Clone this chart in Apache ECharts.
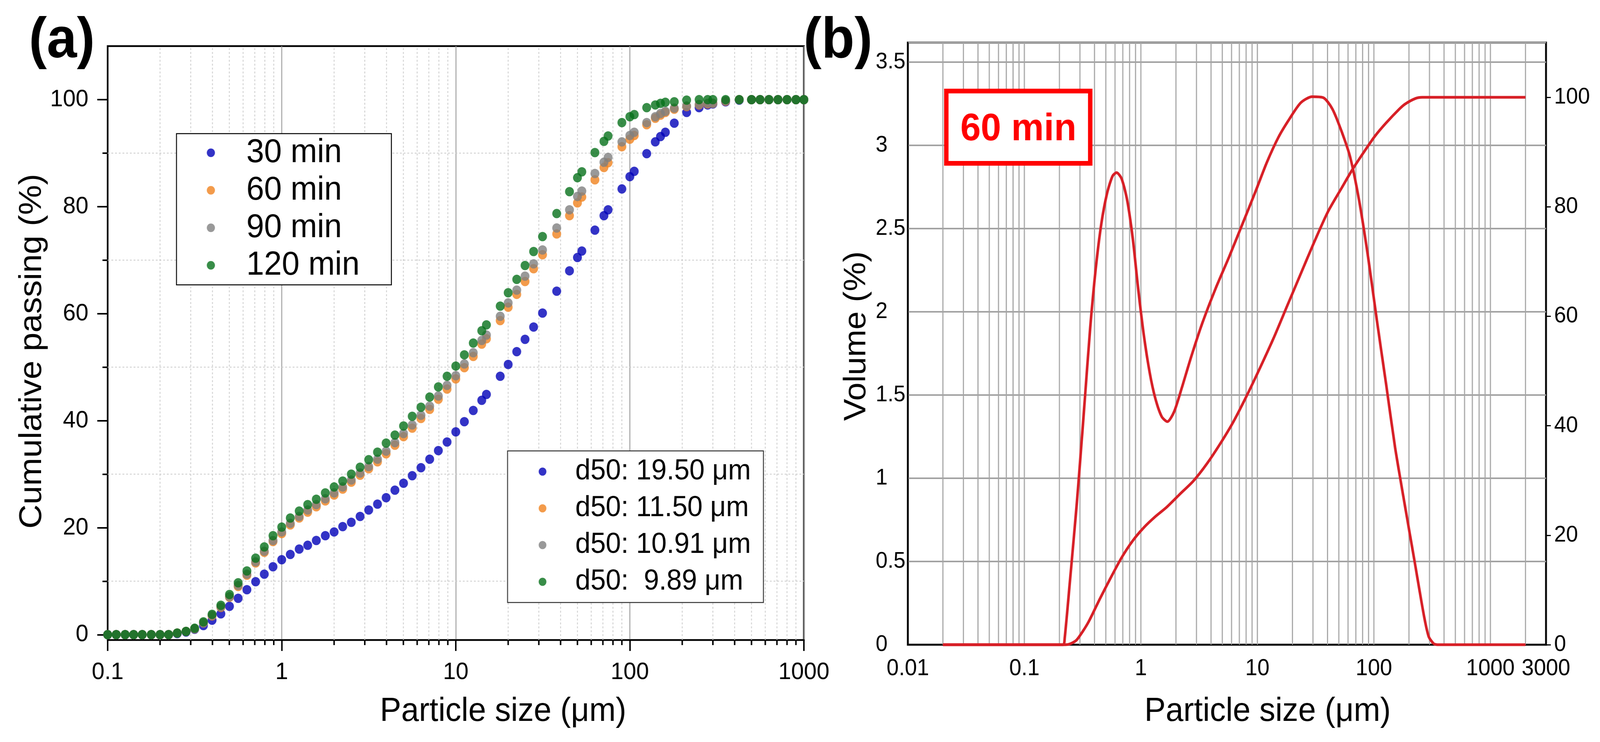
<!DOCTYPE html>
<html>
<head>
<meta charset="utf-8">
<title>Particle size distribution</title>
<script src="https://cdn.jsdelivr.net/npm/echarts@6.0.0/dist/echarts.min.js"></script>
<style>
  html, body { margin: 0; padding: 0; background: #fff; overflow: hidden; }
  #chart { width: 4325px; height: 1899px; transform-origin: 0 0; }
</style>
</head>
<body>
<div id="chart"></div>
<script>
// (a) cumulative passing, the size classes are shared by the four grinding times
const sizes = [0.1, 0.112, 0.126, 0.141, 0.158, 0.178, 0.2, 0.224, 0.251, 0.282,
  0.316, 0.355, 0.398, 0.447, 0.501, 0.562, 0.631, 0.708, 0.794, 0.891,
  1, 1.12, 1.26, 1.41, 1.58, 1.78, 2, 2.24, 2.51, 2.82,
  3.16, 3.55, 3.98, 4.47, 5.01, 5.62, 6.31, 7.08, 7.94, 8.91,
  10, 11.2, 12.6, 14.1, 15, 18, 20, 22.4, 25, 28, 31.5,
  38, 45, 50, 53, 63, 71, 75, 90,
  100, 106, 125, 140, 150, 160, 180, 212,
  250, 280, 300, 355, 425, 500, 560, 630, 710, 800, 900, 1000];

const passing30 = [0, 0, 0, 0, 0, 0, 0, 0, 0.2, 0.5,
  1.0, 1.7, 2.7, 3.9, 5.3, 6.8, 8.4, 9.9, 11.3, 12.7,
  14.0, 15.0, 16.0, 16.7, 17.6, 18.5, 19.2, 20.2, 21.0, 22.1,
  23.3, 24.4, 25.6, 27.0, 28.3, 29.7, 31.2, 32.8, 34.4, 36.0,
  37.9, 39.8, 41.9, 43.8, 44.9, 48.3, 50.5, 52.9, 55.2, 57.5, 60.1,
  64.2, 68.0, 70.5, 71.7, 75.6, 78.3, 79.4, 83.3,
  85.6, 86.6, 89.9, 92.1, 93.1, 93.9, 95.6, 97.6,
  98.5, 99.0, 99.2, 99.6, 99.9, 100, 100, 100, 100, 100, 100, 100];

const passing60 = [0, 0, 0, 0, 0, 0, 0, 0, 0.3, 0.6,
  1.1, 2.2, 3.5, 5.1, 7.0, 9.0, 11.1, 13.4, 15.4, 17.4,
  18.9, 20.5, 21.8, 22.9, 23.9, 25.0, 26.1, 27.2, 28.5, 29.8,
  31.0, 32.3, 33.8, 35.4, 37.0, 38.6, 40.4, 42.1, 44.0, 45.9,
  47.8, 49.9, 52.0, 54.3, 55.3, 58.7, 61.2, 63.6, 66.0, 68.4, 71.0,
  74.9, 78.3, 80.7, 81.8, 85.0, 87.3, 88.2, 91.2,
  92.6, 93.3, 95.3, 96.5, 97.1, 97.6, 98.2, 98.7,
  99.0, 99.2, 99.3, 99.7, 100, 100, 100, 100, 100, 100, 100, 100];

const passing90 = [0, 0, 0, 0, 0, 0, 0, 0, 0.3, 0.6,
  1.1, 2.2, 3.6, 5.2, 7.1, 9.2, 11.3, 13.6, 15.6, 17.6,
  19.2, 20.8, 22.1, 23.3, 24.3, 25.4, 26.5, 27.6, 28.9, 30.2,
  31.4, 32.8, 34.3, 35.9, 37.6, 39.2, 41.0, 42.7, 44.6, 46.6,
  48.4, 50.6, 52.7, 55.0, 56.0, 59.5, 62.0, 64.4, 67.0, 69.3, 71.9,
  76.0, 79.4, 81.9, 82.9, 86.2, 88.3, 89.2, 92.1,
  93.3, 93.9, 95.7, 96.8, 97.4, 97.8, 98.4, 98.8,
  99.1, 99.3, 99.3, 99.8, 100, 100, 100, 100, 100, 100, 100, 100];

const passing120 = [0, 0, 0, 0, 0, 0, 0, 0, 0.3, 0.6,
  1.2, 2.4, 3.8, 5.5, 7.5, 9.7, 11.9, 14.3, 16.4, 18.5,
  20.1, 21.8, 23.1, 24.3, 25.3, 26.5, 27.6, 28.7, 30.0, 31.3,
  32.7, 34.1, 35.8, 37.3, 39.0, 40.8, 42.5, 44.4, 46.3, 48.3,
  50.2, 52.3, 54.5, 56.8, 57.9, 61.4, 63.9, 66.4, 69.0, 71.6, 74.4,
  78.7, 82.8, 85.4, 86.5, 90.1, 92.2, 93.2, 95.7,
  96.8, 97.2, 98.5, 99.0, 99.3, 99.5, 99.6, 99.9,
  100, 100, 100, 100, 100, 100, 100, 100, 100, 100, 100, 100];

const timeNames = ['30 min', '60 min', '90 min', '120 min'];
const d50Names = ['d50: 19.50 μm', 'd50: 11.50 μm', 'd50: 10.91 μm', 'd50:  9.89 μm'];
const colors = ['#0000b8', '#f0821e', '#808080', '#06701a'];

// (b) 60 min sample: volume frequency (left axis) and cumulative (right axis)
const volSizes = [0.02, 0.1, 0.215, 0.222, 0.246, 0.282, 0.322, 0.367, 0.41, 0.458,
  0.512, 0.571, 0.619, 0.683, 0.763, 0.852, 0.951, 1.06, 1.19, 1.33,
  1.51, 1.69, 1.93, 2.25, 2.69, 3.36, 4.38, 5.72, 7.47, 9.73,
  12.1, 15.2, 18.9, 23.6, 29.5, 36.8, 43.9, 52.4, 62.5, 74.6,
  89.1, 106, 127, 152, 181, 221, 268, 295, 325, 350, 1000, 2000];
const volume = [0, 0, 0, 0.04, 0.38, 0.85, 1.37, 1.9, 2.26, 2.53,
  2.71, 2.815, 2.836, 2.8, 2.67, 2.44, 2.13, 1.86, 1.635, 1.48,
  1.37, 1.34, 1.4, 1.545, 1.725, 1.93, 2.14, 2.33, 2.53, 2.73,
  2.9, 3.05, 3.16, 3.256, 3.292, 3.286, 3.22, 3.09, 2.93, 2.67,
  2.33, 1.95, 1.57, 1.185, 0.87, 0.52, 0.18, 0.05, 0.007, 0, 0, 0];

const cumSizes = [0.02, 0.1, 0.225, 0.25, 0.282, 0.352, 0.438, 0.547, 0.683, 0.852,
  1.06, 1.33, 1.66, 2.16, 2.82, 3.67, 4.79, 6.25, 8.15, 10.6,
  13.9, 18.1, 23.6, 30.8, 40.1, 52.4, 65.4, 81.5, 102, 127,
  166, 186, 228, 260, 1000, 2000];
const cumulative = [0, 0, 0, 0.2, 0.9, 4.0, 8.1, 12.1, 15.9, 19.0,
  21.4, 23.4, 25.1, 27.5, 29.9, 33.0, 36.7, 40.8, 45.6, 50.7,
  56.2, 62.0, 67.8, 73.6, 79.0, 83.3, 86.8, 89.9, 92.9, 95.3,
  97.9, 98.8, 99.8, 100, 100, 100];

// tick and grid values
const yTicksA = [0, 20, 40, 60, 80, 100];
const yMinorA = [10, 30, 50, 70, 90];
const xMinorA = [0.2, 0.3, 0.4, 0.5, 0.6, 0.7, 0.8, 0.9,
  2, 3, 4, 5, 6, 7, 8, 9,
  20, 30, 40, 50, 60, 70, 80, 90,
  200, 300, 400, 500, 600, 700, 800, 900];
const xGridB = [0.02, 0.03, 0.04, 0.05, 0.06, 0.07, 0.08, 0.09,
  0.1, 0.2, 0.3, 0.4, 0.5, 0.6, 0.7, 0.8, 0.9,
  1, 2, 3, 4, 5, 6, 7, 8, 9,
  10, 20, 30, 40, 50, 60, 70, 80, 90,
  100, 200, 300, 400, 500, 600, 700, 800, 900, 1000, 2000];
const yLabelsB = [0, 0.5, 1, 1.5, 2, 2.5, 3, 3.5];
const yRightB = [0, 20, 40, 60, 80, 100];

const FONT = 'Liberation Sans, Arial, sans-serif';
const A_X = [0.1, 1000], A_Y = [-1, 110];
const B_X = [0.01, 3000], B_Y = [0, 3.617];

const fmtLog = (v) => String(+v.toPrecision(6));

// lines drawn through the axes' own scales
function vLines(values, yRange, xi, yi, style) {
  return {
    type: 'custom', xAxisIndex: xi, yAxisIndex: yi, silent: true, z: 1,
    data: values.map((v) => [v, yRange[0]]),
    renderItem: (params, api) => {
      const p1 = api.coord([api.value(0), yRange[0]]);
      const p2 = api.coord([api.value(0), yRange[1]]);
      return { type: 'line', shape: { x1: p1[0], y1: p1[1], x2: p2[0], y2: p2[1] }, style };
    },
  };
}
function hLines(values, xRange, xi, yi, style) {
  return {
    type: 'custom', xAxisIndex: xi, yAxisIndex: yi, silent: true, z: 1,
    data: values.map((v) => [xRange[0], v]),
    renderItem: (params, api) => {
      const p1 = api.coord([xRange[0], api.value(1)]);
      const p2 = api.coord([xRange[1], api.value(1)]);
      return { type: 'line', shape: { x1: p1[0], y1: p1[1], x2: p2[0], y2: p2[1] }, style };
    },
  };
}
function minorTicks(values, yMin, len, xi, yi) {
  return {
    type: 'custom', xAxisIndex: xi, yAxisIndex: yi, silent: true, z: 1,
    data: values.map((v) => [v, yMin]),
    renderItem: (params, api) => {
      const p = api.coord([api.value(0), yMin]);
      return { type: 'line', shape: { x1: p[0], y1: p[1], x2: p[0], y2: p[1] + len },
        style: { stroke: '#000', lineWidth: 4 } };
    },
  };
}

const passingSets = [passing30, passing60, passing90, passing120];

// the window can be narrower than 4325px: stretch the drawing to fill it
const el = document.getElementById('chart');
const sx = window.innerWidth / 4325, sy = window.innerHeight / 1899;
if (Math.abs(sx - 1) > 0.001 || Math.abs(sy - 1) > 0.001) el.style.transform = `scale(${sx}, ${sy})`;

const chart = echarts.init(el, null, { renderer: 'canvas' });
chart.setOption({
  animation: false,
  backgroundColor: '#fff',
  title: [
    { text: '(a)', left: 78, top: 34, padding: 0,
      textStyle: { fontFamily: FONT, fontSize: 146, fontWeight: 'bold', color: '#000', lineHeight: 146 } },
    { text: '(b)', left: 2172, top: 34, padding: 0,
      textStyle: { fontFamily: FONT, fontSize: 146, fontWeight: 'bold', color: '#000', lineHeight: 146 } },
    { text: '60 min', left: 2558, top: 233, padding: [49, 38, 37, 38],
      backgroundColor: '#fff', borderColor: '#ff0000', borderWidth: 12,
      textStyle: { fontFamily: FONT, fontSize: 99, fontWeight: 'bold', color: '#ff0000', lineHeight: 99 } },
  ],
  legend: [
    {
      data: timeNames, orient: 'vertical', left: 477, top: 342,
      padding: [1, 86, 2, 82], itemWidth: 22, itemHeight: 22, itemGap: 0,
      icon: 'circle', selectedMode: false,
      backgroundColor: '#fff', borderColor: '#000', borderWidth: 2.5,
      formatter: (name) => '{s|}' + name,
      textStyle: { fontFamily: FONT, fontSize: 86, lineHeight: 96, color: '#000',
        rich: { s: { width: 80, lineHeight: 96, fontSize: 86 } } },
    },
    {
      data: d50Names, orient: 'vertical', left: 1372, top: 1154,
      padding: [6, 34, 6, 84], itemWidth: 21, itemHeight: 21, itemGap: 0,
      icon: 'circle', selectedMode: false,
      backgroundColor: '#fff', borderColor: '#333', borderWidth: 2.5,
      formatter: (name) => '{s|}' + name,
      textStyle: { fontFamily: FONT, fontSize: 74, lineHeight: 94, color: '#000',
        rich: { s: { width: 73, lineHeight: 94, fontSize: 74 } } },
    },
  ],
  grid: [
    { left: 291, right: 2152, top: 118, bottom: 261, show: true,
      borderColor: '#000', borderWidth: 4.5, outerBoundsMode: 'none' },
    { left: 2454, right: 146, top: 109, bottom: 249, show: true,
      borderColor: '#000', borderWidth: 5, outerBoundsMode: 'none' },
  ],
  xAxis: [
    {
      type: 'log', logBase: 10, gridIndex: 0, min: A_X[0], max: A_X[1],
      name: 'Particle size (μm)', nameLocation: 'middle', nameGap: 140,
      nameTextStyle: { fontFamily: FONT, fontSize: 86, color: '#000', padding: [0, 0, 0, 256] },
      axisLine: { onZero: false, lineStyle: { color: '#000', width: 4 } },
      axisTick: { length: 28, lineStyle: { color: '#000', width: 4 } },
      axisLabel: { fontFamily: FONT, fontSize: 62, color: '#000', margin: 52, formatter: fmtLog },
      splitLine: { show: true, lineStyle: { color: '#9d9d9d', width: 2.5 } },
    },
    {
      type: 'log', logBase: 10, gridIndex: 1, min: B_X[0], max: B_X[1],
      name: 'Particle size (μm)', nameLocation: 'middle', nameGap: 128,
      nameTextStyle: { fontFamily: FONT, fontSize: 86, color: '#000', padding: [0, 0, 0, 220] },
      axisLine: { onZero: false, lineStyle: { color: '#000', width: 4 } },
      axisTick: { show: false },
      axisLabel: { fontFamily: FONT, fontSize: 59, color: '#000', margin: 32, formatter: fmtLog },
      splitLine: { show: false },
    },
  ],
  yAxis: [
    {
      type: 'value', gridIndex: 0, position: 'left', min: A_Y[0], max: A_Y[1],
      name: 'Cumulative passing (%)', nameLocation: 'middle', nameRotate: 90, nameGap: 161,
      nameTextStyle: { fontFamily: FONT, fontSize: 86, color: '#000', padding: [0, 42, 0, 0] },
      axisLine: { show: true, onZero: false, lineStyle: { color: '#000', width: 4 } },
      axisTick: { show: true, customValues: yTicksA, length: 28, lineStyle: { color: '#000', width: 4 } },
      axisLabel: { customValues: yTicksA, fontFamily: FONT, fontSize: 62, color: '#000', margin: 52 },
      splitLine: { show: false },
    },
    {
      type: 'value', gridIndex: 0, position: 'left', min: A_Y[0], max: A_Y[1],
      axisLine: { show: false, onZero: false },
      axisTick: { show: true, customValues: yMinorA, length: 14, lineStyle: { color: '#000', width: 4 } },
      axisLabel: { show: false },
      splitLine: { show: false },
    },
    {
      type: 'value', gridIndex: 1, position: 'left', min: B_Y[0], max: B_Y[1], interval: 0.5,
      name: 'Volume (%)', nameLocation: 'middle', nameRotate: 90, nameGap: 96,
      nameTextStyle: { fontFamily: FONT, fontSize: 84, color: '#000', padding: [0, 0, 0, 39] },
      axisLine: { show: true, onZero: false, lineStyle: { color: '#000', width: 3.5 } },
      axisTick: { show: false },
      axisLabel: { customValues: yLabelsB, align: 'left', margin: 87, fontFamily: FONT, fontSize: 58, color: '#000' },
      splitLine: { show: true, lineStyle: { color: '#a2a2a2', width: 4 } },
    },
    {
      type: 'value', gridIndex: 1, position: 'right', min: 0, max: 110,
      axisLine: { show: false, onZero: false },
      axisTick: { show: true, customValues: yRightB, length: 13, lineStyle: { color: '#000', width: 3 } },
      axisLabel: { customValues: yRightB, margin: 22, fontFamily: FONT, fontSize: 58, color: '#000' },
      splitLine: { show: false },
    },
  ],
  series: [
    vLines(xMinorA, A_Y, 0, 0, { stroke: '#c9c9c9', lineWidth: 2, lineDash: [5, 5] }),
    hLines(yMinorA, A_X, 0, 0, { stroke: '#c9c9c9', lineWidth: 2, lineDash: [5, 5] }),
    minorTicks(xMinorA, A_Y[0], 13, 0, 0),
    ...timeNames.map((name, i) => ({
      type: 'scatter', name, xAxisIndex: 0, yAxisIndex: 0,
      data: sizes.map((x, k) => [x, passingSets[i][k]]),
      symbol: 'circle', symbolSize: 24, clip: false, z: 3,
      itemStyle: { color: colors[i] },
    })),
    ...d50Names.map((name, i) => ({
      type: 'scatter', name, xAxisIndex: 0, yAxisIndex: 0, data: [],
      symbol: 'circle', itemStyle: { color: colors[i] },
    })),
    vLines(xGridB, B_Y, 1, 2, { stroke: '#a6a6a6', lineWidth: 3 }),
    {
      type: 'line', name: 'Volume', xAxisIndex: 1, yAxisIndex: 2,
      data: volSizes.map((x, k) => [x, volume[k]]),
      showSymbol: false, symbol: 'none', smooth: 0.25, clip: false, z: 3,
      lineStyle: { color: '#d71f26', width: 7 },
    },
    {
      type: 'line', name: 'Cumulative', xAxisIndex: 1, yAxisIndex: 3,
      data: cumSizes.map((x, k) => [x, cumulative[k]]),
      showSymbol: false, symbol: 'none', smooth: 0.25, clip: false, z: 3,
      lineStyle: { color: '#d71f26', width: 7 },
    },
  ],
});
</script>
</body>
</html>
